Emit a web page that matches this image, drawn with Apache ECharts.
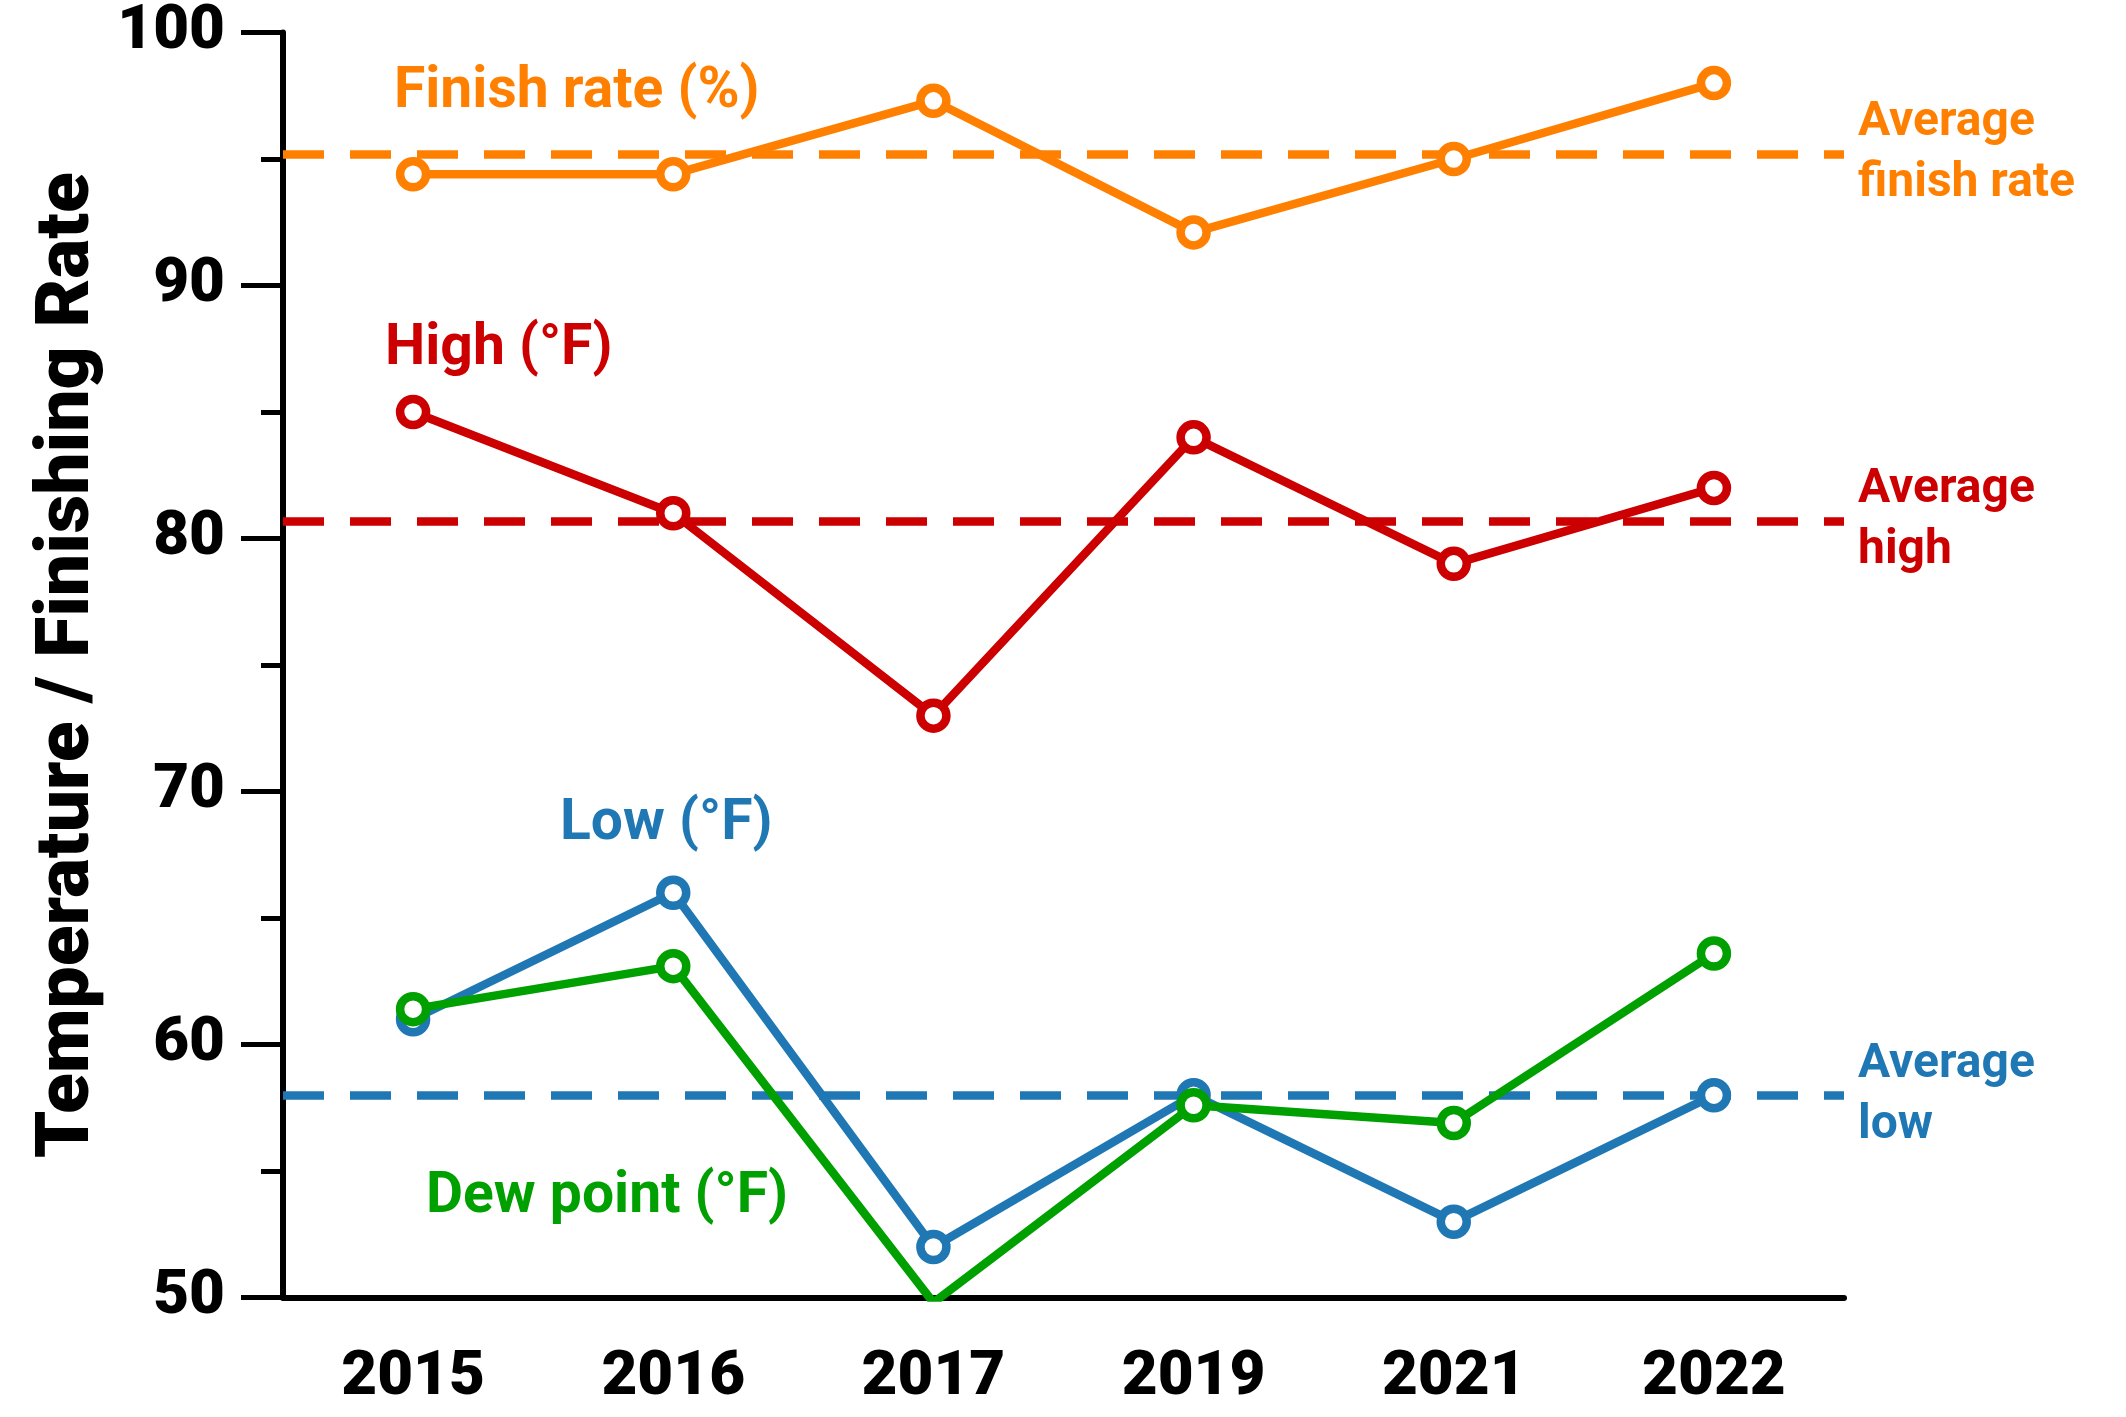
<!DOCTYPE html>
<html>
<head>
<meta charset="utf-8">
<script src="https://cdn.jsdelivr.net/npm/echarts@6/dist/echarts.min.js"></script>
<style>
  html, body { margin: 0; padding: 0; background: #fff; }
  #chart { width: 2126px; height: 1417px; }
</style>
</head>
<body>
<div id="chart"></div>
<script>
const years = ['2015', '2016', '2017', '2019', '2021', '2022'];
const finishRate = [94.4, 94.4, 97.3, 92.1, 95.0, 98.0];
const highTemp = [85, 81, 73, 84, 79, 82];
const lowTemp = [61, 66, 52, 58, 53, 58];
const dewPoint = [61.4, 63.1, 49.8, 57.6, 56.9, 63.6];
const avgFinish = 95.2;
const avgHigh = 80.7;
const avgLow = 58.0;
const yTicks = [50, 60, 70, 80, 90, 100];

const FONT = 'Roboto, "Noto Sans", sans-serif';
const C_ORANGE = '#ff8000', C_RED = '#cc0000', C_BLUE = '#1f77b4', C_GREEN = '#00a000';

function lineSeries(name, data, color, avg, avgLabel) {
  const s = {
    name: name,
    type: 'line',
    data: data,
    clip: true,
    symbol: 'circle',
    symbolSize: 26,
    itemStyle: { color: '#fff', borderColor: color, borderWidth: 8.5 },
    lineStyle: { color: color, width: 8.5 },
    emphasis: { disabled: true },
    z: 3
  };
  if (avg !== undefined) {
    s.markLine = {
      silent: true,
      symbol: ['none', 'none'],
      z: 2,
      lineStyle: { color: color, width: 8.5, type: [41, 26] },
      label: {
        show: true, position: 'end', formatter: avgLabel, color: color,
        fontFamily: FONT, fontWeight: 'bold', fontSize: 48, lineHeight: 61,
        distance: 14, align: 'left'
      },
      data: [{ yAxis: avg }]
    };
  }
  return s;
}

const chart = echarts.init(document.getElementById('chart'), null, { renderer: 'canvas' });
chart.setOption({
  animation: false,
  backgroundColor: '#fff',
  grid: { left: 283, right: 282, top: 32.5, bottom: 119.4 },
  xAxis: {
    type: 'category',
    data: years,
    boundaryGap: true,
    axisLine: { lineStyle: { color: '#000', width: 6 } },
    axisTick: { alignWithLabel: true, length: 42, lineStyle: { color: '#000', width: 5 } },
    axisLabel: { color: '#000', fontFamily: FONT, fontWeight: 900, fontSize: 62, margin: 50 },
    splitLine: { show: false }
  },
  yAxis: {
    type: 'value',
    min: yTicks[0],
    max: yTicks[yTicks.length - 1],
    interval: 10,
    name: 'Temperature / Finishing Rate',
    nameLocation: 'middle',
    nameGap: 175,
    nameRotate: 90,
    nameTextStyle: { color: '#000', fontFamily: FONT, fontWeight: 900, fontSize: 75 },
    axisLine: { show: true, lineStyle: { color: '#000', width: 6 } },
    axisTick: { show: true, length: 42, lineStyle: { color: '#000', width: 5 } },
    minorTick: { show: true, splitNumber: 2, length: 22, lineStyle: { color: '#000', width: 5 } },
    axisLabel: { color: '#000', fontFamily: FONT, fontWeight: 900, fontSize: 62, margin: 58 },
    splitLine: { show: false }
  },
  series: [
    lineSeries('Finish rate (%)', finishRate, C_ORANGE, avgFinish, 'Average\nfinish rate'),
    lineSeries('High (°F)', highTemp, C_RED, avgHigh, 'Average\nhigh'),
    lineSeries('Low (°F)', lowTemp, C_BLUE, avgLow, 'Average\nlow'),
    lineSeries('Dew point (°F)', dewPoint, C_GREEN)
  ],
  graphic: [
    { type: 'text', x: 394, y: 93, style: { text: 'Finish rate (%)', fill: C_ORANGE, font: 'bold 57px ' + FONT, verticalAlign: 'middle', align: 'left' } },
    { type: 'text', x: 385, y: 350, style: { text: 'High (°F)', fill: C_RED, font: 'bold 57px ' + FONT, verticalAlign: 'middle', align: 'left' } },
    { type: 'text', x: 560, y: 825, style: { text: 'Low (°F)', fill: C_BLUE, font: 'bold 57px ' + FONT, verticalAlign: 'middle', align: 'left' } },
    { type: 'text', x: 426, y: 1198, style: { text: 'Dew point (°F)', fill: C_GREEN, font: 'bold 57px ' + FONT, verticalAlign: 'middle', align: 'left' } }
  ]
});
</script>
</body>
</html>
